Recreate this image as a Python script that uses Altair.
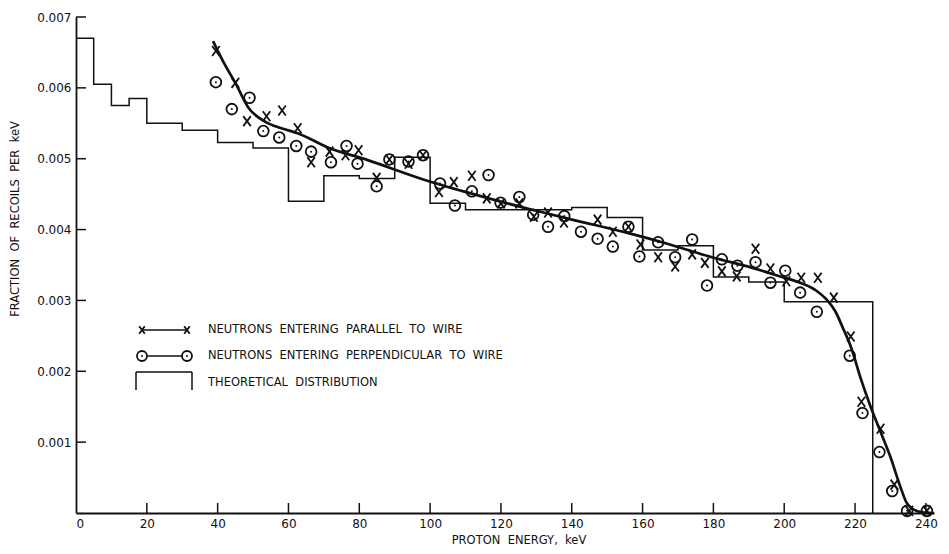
import altair as alt
import pandas as pd

# ---------------- data ----------------
x_ticks = [0, 20, 40, 60, 80, 100, 120, 140, 160, 180, 200, 220, 240]
y_ticks = [0.001, 0.002, 0.003, 0.004, 0.005, 0.006, 0.007]

# theoretical distribution (histogram): left bin edges and heights, then drop to 0
hist_x = [0, 5, 10, 15, 20, 30, 40, 50, 60, 70, 80, 90, 100, 110, 140, 150,
          160, 170, 180, 190, 200, 225]
hist_y = [0.00670, 0.00605, 0.00575, 0.00585, 0.00550, 0.00540, 0.00523,
          0.00515, 0.00440, 0.00476, 0.00472, 0.00502, 0.00437, 0.00428,
          0.00431, 0.00417, 0.00371, 0.00377, 0.00333, 0.00326, 0.00298, 0.0]

# neutrons entering parallel to wire (X)
par_x = [39.5, 45.0, 48.3, 53.8, 58.2, 62.6, 66.4, 71.6, 76.1, 79.8, 84.9,
         88.5, 93.9, 98.0, 102.5, 106.7, 111.8, 116.0, 120.0, 125.2, 129.3,
         133.3, 137.8, 147.3, 151.6, 156.0, 159.4, 164.4, 169.2, 174.0, 177.6,
         182.4, 186.6, 191.9, 196.1, 200.6, 204.8, 209.5, 214.0, 218.8, 221.8,
         227.2, 231.1, 235.3, 240.3]
par_y = [0.00652, 0.00607, 0.00553, 0.00560, 0.00568, 0.00543, 0.00495,
         0.00510, 0.00505, 0.00512, 0.00473, 0.00499, 0.00493, 0.00505,
         0.00453, 0.00467, 0.00476, 0.00444, 0.00437, 0.00437, 0.00418,
         0.00424, 0.00410, 0.00414, 0.00397, 0.00404, 0.00379, 0.00361,
         0.00348, 0.00365, 0.00353, 0.00341, 0.00334, 0.00373, 0.00345,
         0.00327, 0.00332, 0.00332, 0.00304, 0.00249, 0.00157, 0.00119,
         0.00040, 0.00003, 0.00003]

# neutrons entering perpendicular to wire (circles)
perp_x = [39.5, 44.0, 49.0, 52.9, 57.4, 62.2, 66.4, 72.0, 76.4, 79.5, 84.9,
          88.5, 93.9, 98.0, 102.8, 107.0, 111.8, 116.5, 119.9, 125.2, 129.1,
          133.3, 137.9, 142.6, 147.3, 151.6, 156.0, 159.1, 164.4, 169.2, 174.0,
          178.2, 182.4, 186.8, 191.9, 196.1, 200.3, 204.5, 209.2, 218.5, 222.1,
          226.9, 230.5, 234.7, 240.3]
perp_y = [0.00608, 0.00570, 0.00586, 0.00539, 0.00530, 0.00518, 0.00510,
          0.00495, 0.00518, 0.00493, 0.00461, 0.00499, 0.00496, 0.00505,
          0.00465, 0.00434, 0.00454, 0.00477, 0.00438, 0.00446, 0.00421,
          0.00404, 0.00419, 0.00397, 0.00387, 0.00376, 0.00404, 0.00362,
          0.00382, 0.00361, 0.00386, 0.00321, 0.00358, 0.00349, 0.00354,
          0.00325, 0.00342, 0.00311, 0.00284, 0.00222, 0.00141, 0.00086,
          0.00031, 0.00003, 0.00003]

# hand-drawn smooth curve through the data
curve_x = [38.7, 42.0, 45.0, 48.7, 53.5, 58.0, 62.6, 71.1, 82.4, 99.2, 113.0,
           127.2, 141.0, 155.2, 167.0, 179.6, 191.0, 199.4, 205.0, 209.0,
           212.0, 214.5, 216.5, 218.8, 221.6, 224.4, 227.0, 230.0, 232.8,
           234.5, 236.5, 239.0, 242.3]
curve_y = [0.00666, 0.00633, 0.00607, 0.00572, 0.00552, 0.00543, 0.00536,
           0.00516, 0.00498, 0.00469, 0.00449, 0.00430, 0.00413, 0.00396,
           0.00380, 0.00361, 0.00346, 0.00333, 0.00324, 0.00314, 0.00301,
           0.00284, 0.00262, 0.00235, 0.00190, 0.00150, 0.00117, 0.00079,
           0.00037, 0.00015, 0.00005, 0.00001, 0.0]

SP = "\u00a0\u00a0"  # wide word gaps, as in the lettering of the original
legend_labels = [SP.join(["NEUTRONS", "ENTERING", "PARALLEL", "TO", "WIRE"]),
                 SP.join(["NEUTRONS", "ENTERING", "PERPENDICULAR", "TO", "WIRE"]),
                 SP.join(["THEORETICAL", "DISTRIBUTION"])]
x_title = SP.join(["PROTON", "ENERGY,", "keV"])
y_title = SP.join(["FRACTION", "OF", "RECOILS", "PER", "keV"])

# ---------------- chart ----------------
INK = "#111111"
FONT = "DejaVu Sans"
W, H = 858, 496
XMAX, YMAX = 242.3, 0.007

xs = alt.Scale(domain=[0, XMAX], nice=False, zero=False)
ys = alt.Scale(domain=[0, YMAX], nice=False)

hist_df = pd.DataFrame({"x": hist_x, "y": hist_y})
par_df = pd.DataFrame({"x": par_x, "y": par_y})
perp_df = pd.DataFrame({"x": perp_x, "y": perp_y})
curve_df = pd.DataFrame({"x": curve_x, "y": curve_y})
xt_df = pd.DataFrame({"v": x_ticks})
yt_df = pd.DataFrame({"v": y_ticks})

X_ENC = alt.X("x:Q", scale=xs,
              axis=alt.Axis(values=x_ticks, format="d", title=None))
Y_ENC = alt.Y("y:Q", scale=ys,
              axis=alt.Axis(values=y_ticks, format=".3f", title=None))

hist = alt.Chart(hist_df).mark_line(
    interpolate="step-after", color=INK, strokeWidth=1.5
).encode(x=X_ENC, y=Y_ENC)

curve = alt.Chart(curve_df).mark_line(
    interpolate="monotone", color=INK, strokeWidth=2.7
).encode(x=alt.X("x:Q", scale=xs), y=alt.Y("y:Q", scale=ys))

XPATH = "M-0.75,-1L0.75,1M0.75,-1L-0.75,1"

par = alt.Chart(par_df).mark_point(
    shape=XPATH, size=100, filled=False, stroke=INK, strokeWidth=1.8, opacity=1
).encode(x=alt.X("x:Q", scale=xs), y=alt.Y("y:Q", scale=ys))

perp = alt.Chart(perp_df).mark_point(
    shape="circle", size=115, filled=False, stroke=INK, strokeWidth=1.8,
    opacity=1
).encode(x=alt.X("x:Q", scale=xs), y=alt.Y("y:Q", scale=ys))

perp_dot = alt.Chart(perp_df).mark_point(
    shape="circle", size=4, filled=True, color=INK, opacity=1
).encode(x=alt.X("x:Q", scale=xs), y=alt.Y("y:Q", scale=ys))

xticks = alt.Chart(xt_df).transform_filter("datum.v > 0").mark_rule(
    color=INK, strokeWidth=1.5
).encode(x=alt.X("v:Q", scale=xs), y=alt.value(H), y2=alt.value(H - 10))

yticks = alt.Chart(yt_df).mark_rule(color=INK, strokeWidth=1.5).encode(
    y=alt.Y("v:Q", scale=ys), x=alt.value(0), x2=alt.value(10))

# ---- hand-drawn legend (pixel positions inside the plot) ----
one = pd.DataFrame({"k": [0]})
lx0, lx1 = 66, 111
ly = [313, 339, 365]
FS = 11.5

def txt(label, y):
    return alt.Chart(one).mark_text(
        text=label, font=FONT, fontSize=FS, color=INK, align="left",
        baseline="middle"
    ).encode(x=alt.value(132), y=alt.value(y))

leg = [
    alt.Chart(one).mark_rule(color=INK, strokeWidth=1.3).encode(
        x=alt.value(lx0), x2=alt.value(lx1), y=alt.value(ly[0])),
    alt.Chart(one).mark_point(shape=XPATH, size=55, filled=False, stroke=INK,
                              strokeWidth=1.8, opacity=1).encode(
        x=alt.value(lx0), y=alt.value(ly[0])),
    alt.Chart(one).mark_point(shape=XPATH, size=55, filled=False, stroke=INK,
                              strokeWidth=1.8, opacity=1).encode(
        x=alt.value(lx1), y=alt.value(ly[0])),
    alt.Chart(one).mark_rule(color=INK, strokeWidth=1.3).encode(
        x=alt.value(lx0 + 5), x2=alt.value(lx1 - 5), y=alt.value(ly[1])),
    alt.Chart(one).mark_point(shape="circle", size=100, filled=False,
                              stroke=INK, strokeWidth=1.8, opacity=1).encode(
        x=alt.value(lx0), y=alt.value(ly[1])),
    alt.Chart(one).mark_point(shape="circle", size=100, filled=False,
                              stroke=INK, strokeWidth=1.8, opacity=1).encode(
        x=alt.value(lx1), y=alt.value(ly[1])),
    alt.Chart(one).mark_point(shape="circle", size=4, filled=True, color=INK,
                              opacity=1).encode(
        x=alt.value(lx0), y=alt.value(ly[1])),
    alt.Chart(one).mark_point(shape="circle", size=4, filled=True, color=INK,
                              opacity=1).encode(
        x=alt.value(lx1), y=alt.value(ly[1])),
    # bracket for the theoretical distribution
    alt.Chart(one).mark_rule(color=INK, strokeWidth=1.5).encode(
        x=alt.value(60), y=alt.value(355), y2=alt.value(373)),
    alt.Chart(one).mark_rule(color=INK, strokeWidth=1.5).encode(
        x=alt.value(60), x2=alt.value(116), y=alt.value(355)),
    alt.Chart(one).mark_rule(color=INK, strokeWidth=1.5).encode(
        x=alt.value(116), y=alt.value(355), y2=alt.value(373)),
    txt(legend_labels[0], ly[0]),
    txt(legend_labels[1], ly[1]),
    txt(legend_labels[2], ly[2] + 1),
]

titles = [
    alt.Chart(one).mark_text(text=y_title, font=FONT, fontSize=FS,
                             color=INK, angle=270, align="center",
                             baseline="middle").encode(
        x=alt.value(-60), y=alt.value(202)),
    alt.Chart(one).mark_text(text=x_title, font=FONT, fontSize=FS,
                             color=INK, align="center",
                             baseline="middle").encode(
        x=alt.value(443), y=alt.value(H + 28)),
]

chart = alt.layer(
    hist, curve, par, perp, perp_dot, xticks, yticks, *leg, *titles
).properties(
    width=W, height=H,
    autosize=alt.AutoSizeParams(type="none"),
    padding={"left": 68, "top": 9, "right": 7, "bottom": 33},
    background="white",
).configure_view(stroke=None).configure_axis(
    grid=False, ticks=False, domainColor=INK, domainWidth=1.8,
    labelFont=FONT, labelFontSize=12, labelColor=INK, labelPadding=5,
)

chart.save("out.html", embed_options={"renderer": "svg", "actions": False})
